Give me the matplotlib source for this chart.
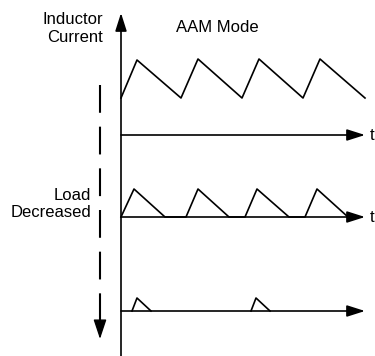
import matplotlib.pyplot as plt

plt.rcParams['font.family'] = ['Liberation Sans', 'DejaVu Sans']
plt.rcParams['lines.scale_dashes'] = False

# time axis origin and baselines of the three traces (pixel-like units)
t0 = 121
baselines = [135, 217, 311]
t_end = 244

# AAM mode, heavy load: continuous triangle current
t_heavy = [0, 16, 60, 77, 121, 138, 182, 199, 244]
i_heavy = [37, 75, 37, 76, 37, 76, 37, 76, 37]

# load decreased: discontinuous pulses
t_mid = [0, 13, 44, 65, 77, 108, 124, 136, 168, 184, 196, 227]
i_mid = [0, 28, 0, 0, 28, 0, 0, 28, 0, 0, 28, 0]

# light load: sparse small pulses
t_light = [[11, 16, 30], [130, 135, 149]]
i_light = [[0, 13, 0], [0, 13, 0]]

fig = plt.figure(figsize=(3.75, 3.56), dpi=100)
ax = fig.add_axes([0, 0, 1, 1])
ax.set_xlim(0, 375)
ax.set_ylim(356, 0)
ax.axis('off')

lw = 1.2
head = dict(arrowstyle='-|>,head_length=1.1,head_width=0.35', mutation_scale=10,
            color='black', lw=lw, shrinkA=0, shrinkB=0)

# vertical current axis
ax.annotate('', xy=(t0, 13), xytext=(t0, 356), arrowprops=head)

# horizontal time axes
for b in baselines:
    ax.annotate('', xy=(t0 + t_end, b), xytext=(t0, b), arrowprops=head)

ax.plot([t0 + t for t in t_heavy], [baselines[0] - i for i in i_heavy], color='black', lw=lw)
ax.plot([t0 + t for t in t_mid], [baselines[1] - i for i in i_mid], color='black', lw=lw)
for ts, cs in zip(t_light, i_light):
    ax.plot([t0 + t for t in ts], [baselines[2] - i for i in cs], color='black', lw=lw)

# dashed "load decreased" arrow
ax.plot([100, 100], [85, 322], color='black', lw=1.5, dashes=(20, 10))
ax.annotate('', xy=(100, 339), xytext=(100, 320),
            arrowprops=dict(arrowstyle='-|>,head_length=1.2,head_width=0.4', mutation_scale=10,
                            color='black', lw=1, shrinkA=0, shrinkB=0))

ax.text(103, 29, 'Inductor\nCurrent', ha='right', va='center', fontsize=12, linespacing=1.25)
ax.text(217, 28, 'AAM Mode', ha='center', va='center', fontsize=12)
ax.text(91, 204, 'Load\nDecreased', ha='right', va='center', fontsize=12, linespacing=1.15)
ax.text(370, 135, 't', ha='left', va='center', fontsize=12)
ax.text(370, 217, 't', ha='left', va='center', fontsize=12)

fig.savefig('out.png', dpi=100)
